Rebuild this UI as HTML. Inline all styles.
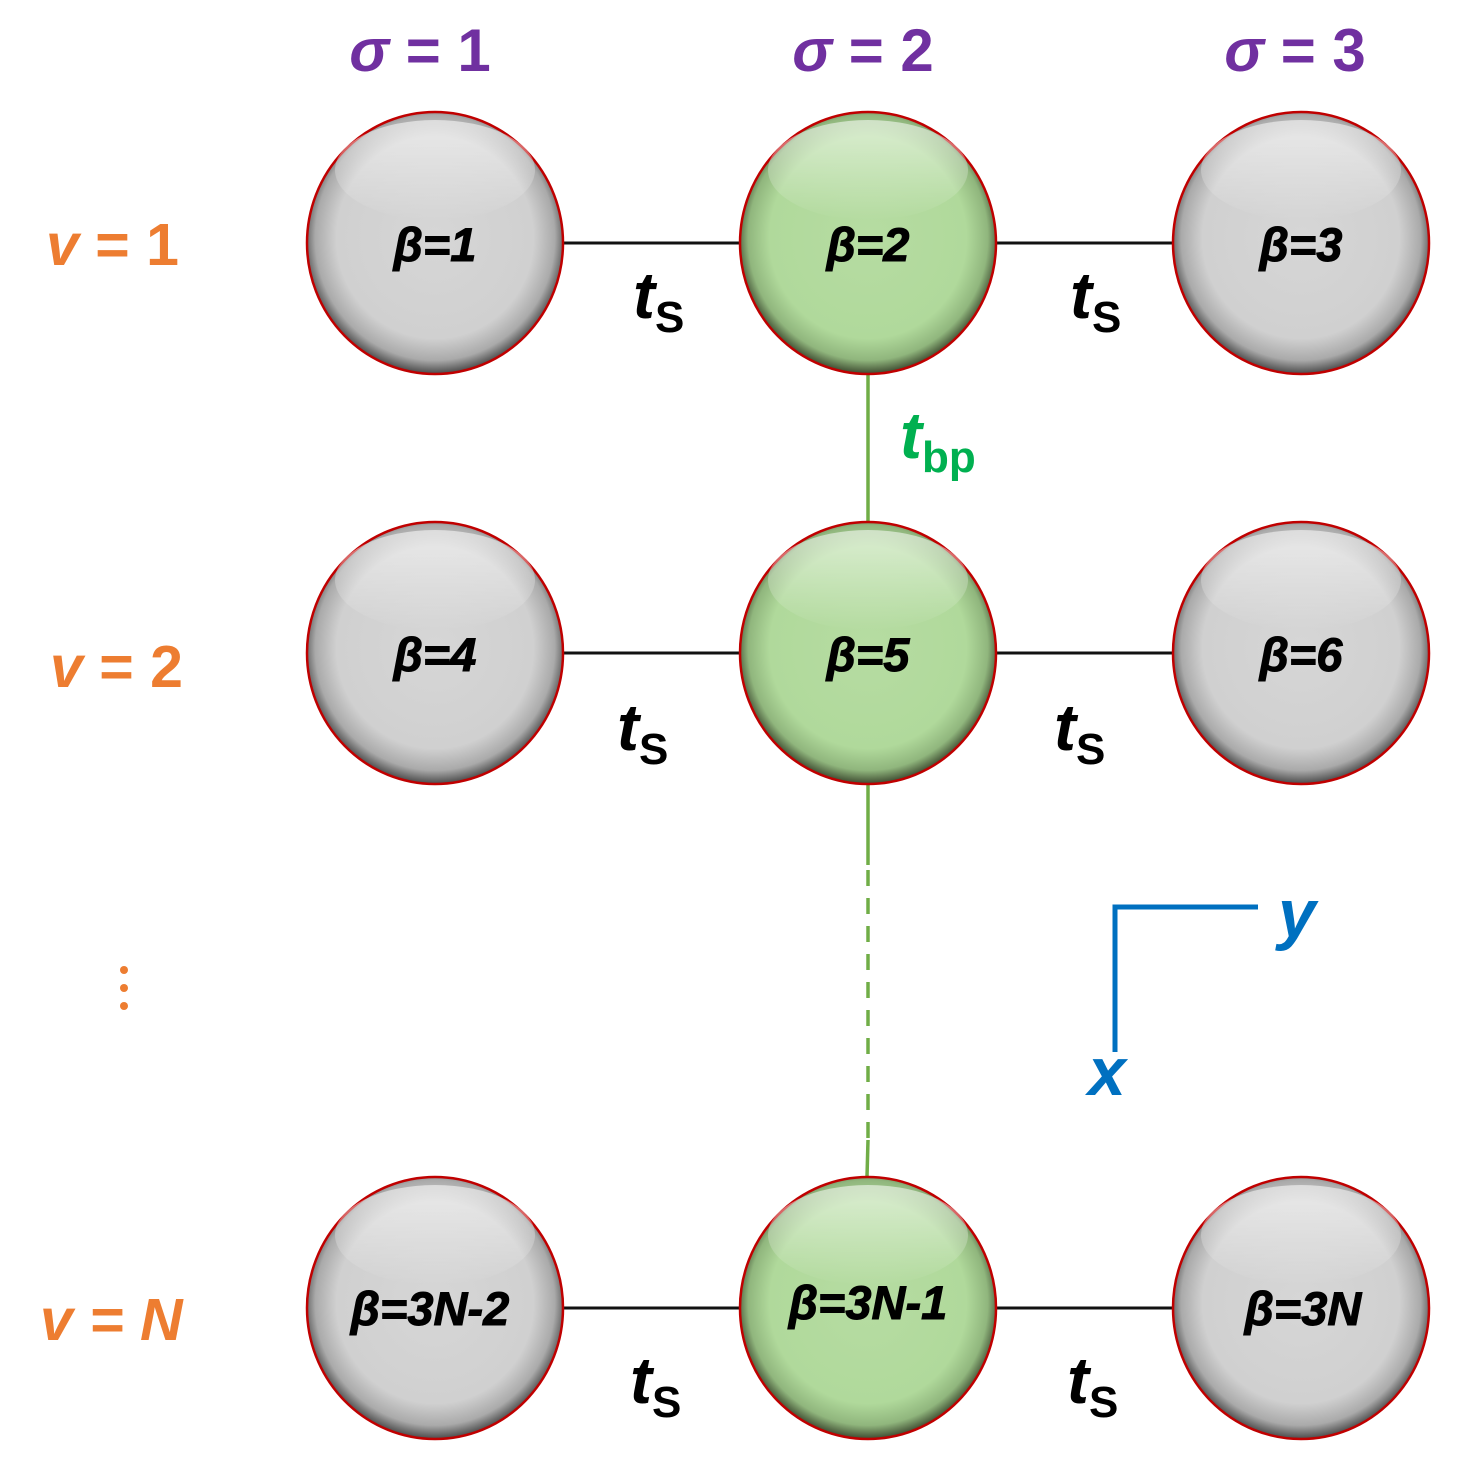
<!DOCTYPE html>
<html><head><meta charset="utf-8"><style>
html,body{margin:0;padding:0;background:#fff;}
svg{display:block;}
text{font-family:"Liberation Sans","DejaVu Sans",sans-serif;font-weight:bold;}
</style></head><body>
<svg width="1466" height="1477" viewBox="0 0 1466 1477" xmlns="http://www.w3.org/2000/svg">
<defs>
<radialGradient id="gg" cx="50%" cy="48%" r="52%">
<stop offset="0" stop-color="#d6d6d6"/><stop offset="0.74" stop-color="#d0d0d0"/><stop offset="0.9" stop-color="#aaa"/><stop offset="1" stop-color="#4a4a4a"/>
</radialGradient>
<radialGradient id="gn" cx="50%" cy="48%" r="52%">
<stop offset="0" stop-color="#b6dca2"/><stop offset="0.74" stop-color="#b0d99b"/><stop offset="0.9" stop-color="#90b67d"/><stop offset="1" stop-color="#3d4a30"/>
</radialGradient>
<linearGradient id="hl" x1="0" y1="0" x2="0" y2="1">
<stop offset="0" stop-color="#fff" stop-opacity="0.55"/><stop offset="1" stop-color="#fff" stop-opacity="0"/>
</linearGradient>
</defs>
<g stroke="#111" stroke-width="3">
<line x1="563" y1="243" x2="740" y2="243"/><line x1="996" y1="243" x2="1173" y2="243"/>
<line x1="563" y1="653" x2="740" y2="653"/><line x1="996" y1="653" x2="1173" y2="653"/>
<line x1="563" y1="1308" x2="740" y2="1308"/><line x1="996" y1="1308" x2="1173" y2="1308"/>
</g>
<g stroke="#70ad47" stroke-width="3.5">
<line x1="868" y1="375" x2="868" y2="522"/>
<line x1="868" y1="785" x2="868" y2="865"/>
<line x1="868" y1="870" x2="868" y2="1140" stroke-dasharray="16,12"/>
<line x1="868" y1="1140" x2="867" y2="1177"/>
</g>
<g stroke="#c00000" stroke-width="2.5">
<ellipse cx="435" cy="243" rx="128" ry="131" fill="url(#gg)"/>
<ellipse cx="868" cy="243" rx="128" ry="131" fill="url(#gn)"/>
<ellipse cx="1301" cy="243" rx="128" ry="131" fill="url(#gg)"/>
<ellipse cx="435" cy="653" rx="128" ry="131" fill="url(#gg)"/>
<ellipse cx="868" cy="653" rx="128" ry="131" fill="url(#gn)"/>
<ellipse cx="1301" cy="653" rx="128" ry="131" fill="url(#gg)"/>
<ellipse cx="435" cy="1308" rx="128" ry="131" fill="url(#gg)"/>
<ellipse cx="868" cy="1308" rx="128" ry="131" fill="url(#gn)"/>
<ellipse cx="1301" cy="1308" rx="128" ry="131" fill="url(#gg)"/>
</g>
<g fill="url(#hl)">
<ellipse cx="435" cy="170" rx="100" ry="50"/><ellipse cx="868" cy="170" rx="100" ry="50"/><ellipse cx="1301" cy="170" rx="100" ry="50"/>
<ellipse cx="435" cy="580" rx="100" ry="50"/><ellipse cx="868" cy="580" rx="100" ry="50"/><ellipse cx="1301" cy="580" rx="100" ry="50"/>
<ellipse cx="435" cy="1235" rx="100" ry="50"/><ellipse cx="868" cy="1235" rx="100" ry="50"/><ellipse cx="1301" cy="1235" rx="100" ry="50"/>
</g>
<g font-size="47" fill="#000" text-anchor="middle" font-style="italic" stroke="#000" stroke-width="1">
<text x="435" y="261">β=1</text><text x="868" y="261">β=2</text><text x="1301" y="261">β=3</text>
<text x="435" y="671">β=4</text><text x="868" y="671">β=5</text><text x="1301" y="671">β=6</text>
<text x="430" y="1325">β=3N-2</text><text x="868" y="1319">β=3N-1</text><text x="1303" y="1325">β=3N</text>
</g>
<g fill="#000">
<text x="633" y="318" font-size="66" font-style="italic">t<tspan font-size="44" font-style="normal" dy="14">S</tspan></text>
<text x="1070" y="318" font-size="66" font-style="italic">t<tspan font-size="44" font-style="normal" dy="14">S</tspan></text>
<text x="617" y="750" font-size="66" font-style="italic">t<tspan font-size="44" font-style="normal" dy="14">S</tspan></text>
<text x="1054" y="750" font-size="66" font-style="italic">t<tspan font-size="44" font-style="normal" dy="14">S</tspan></text>
<text x="630" y="1403" font-size="66" font-style="italic">t<tspan font-size="44" font-style="normal" dy="14">S</tspan></text>
<text x="1067" y="1403" font-size="66" font-style="italic">t<tspan font-size="44" font-style="normal" dy="14">S</tspan></text>
</g>
<text x="900" y="458" font-size="66" font-style="italic" fill="#00b050">t<tspan font-size="44" font-style="normal" dy="14">bp</tspan></text>
<g fill="#7030a0" font-size="60" text-anchor="middle">
<text x="420" y="71"><tspan font-style="italic">σ</tspan> = 1</text>
<text x="863" y="71"><tspan font-style="italic">σ</tspan> = 2</text>
<text x="1295" y="71"><tspan font-style="italic">σ</tspan> = 3</text>
</g>
<g fill="#ed7d31" font-size="59">
<text x="46" y="265"><tspan font-style="italic">v</tspan> = 1</text>
<text x="50" y="687"><tspan font-style="italic">v</tspan> = 2</text>
<text x="40" y="1340" font-style="italic">v = N</text>
<circle cx="124" cy="970" r="4"/><circle cx="124" cy="988" r="4"/><circle cx="124" cy="1006" r="4"/>
</g>
<polyline points="1258,907 1115,907 1115,1052" fill="none" stroke="#0070c0" stroke-width="5"/>
<text x="1278" y="937" font-size="68" font-style="italic" fill="#0070c0">y</text>
<text x="1088" y="1095" font-size="68" font-style="italic" fill="#0070c0">x</text>
</svg>
</body></html>
